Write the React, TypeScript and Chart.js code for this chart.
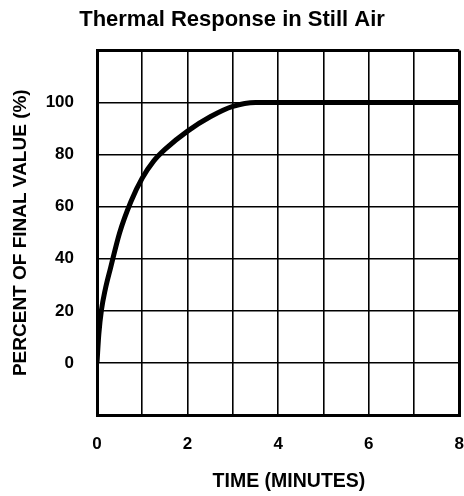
import React, { useEffect, useRef } from "react";
import { Chart, registerables } from "chart.js";

Chart.register(...registerables);

const timeMinutes = [0, 0.04, 0.1, 0.18, 0.3, 0.5, 0.75, 1.0, 1.25, 1.5, 2.0, 2.5, 3.0, 3.5, 4, 5, 6, 7, 8];
const percentFinal = [0, 11, 20.5, 28, 36.5, 50, 62, 71, 77.5, 82, 89, 94.5, 98.5, 100, 100, 100, 100, 100, 100];
const xTickLabels = [0, 2, 4, 6, 8];
const yTickLabels = [0, 20, 40, 60, 80, 100];
const titleText = "Thermal Response in Still Air";
const xTitle = "\u00a0\u00a0\u00a0\u00a0TIME (MINUTES)";
const yTitle = "PERCENT OF FINAL VALUE (%)";

const sans = "'Liberation Sans', Arial, Helvetica, sans-serif";

export default function App() {
  const ref = useRef<HTMLCanvasElement | null>(null);

  useEffect(() => {
    if (!ref.current) return;
    const points = timeMinutes.map((t, i) => ({ x: t, y: percentFinal[i] }));
    const edgeWidth = (edgeA: number, edgeB: number) => (ctx: any) =>
      ctx.tick && (ctx.tick.value === edgeA || ctx.tick.value === edgeB) ? 3 : 1.6;

    const chart = new Chart(ref.current, {
      type: "line",
      data: {
        datasets: [
          {
            data: points,
            borderColor: "#000",
            borderWidth: 5,
            pointRadius: 0,
            cubicInterpolationMode: "monotone",
            fill: false,
          },
        ],
      },
      options: {
        animation: false,
        responsive: false,
        devicePixelRatio: 1,
        layout: { padding: { left: 0, right: 0, top: 0, bottom: 0 } },
        plugins: {
          legend: { display: false },
          tooltip: { enabled: false },
          title: {
            display: true,
            text: titleText,
            color: "#000",
            font: { family: sans, size: 22, weight: "bold" },
            padding: { top: 7, bottom: 17 },
          },
        },
        scales: {
          x: {
            type: "linear",
            min: 0,
            max: 8,
            afterFit: (s: any) => {
              s.height = 81;
            },
            ticks: {
              stepSize: 1,
              autoSkip: false,
              maxRotation: 0,
              color: "#000",
              padding: 0,
              font: { family: sans, size: 17, weight: "bold" },
              callback: (v: any) => (xTickLabels.includes(Number(v)) ? String(v) : ""),
            },
            grid: {
              color: "#000",
              lineWidth: edgeWidth(0, 8),
              drawTicks: true,
              tickLength: 19,
              tickColor: "rgba(0,0,0,0)",
            },
            border: { display: true, color: "#000", width: 3 },
            title: {
              display: true,
              text: xTitle,
              color: "#000",
              font: { family: sans, size: 19.5, weight: "bold" },
              padding: { top: 0, bottom: 3 },
            },
          },
          y: {
            type: "linear",
            min: -20,
            max: 120,
            afterFit: (s: any) => {
              s.width = 97;
            },
            ticks: {
              stepSize: 20,
              autoSkip: false,
              color: "#000",
              padding: 23,
              font: { family: sans, size: 17, weight: "bold" },
              callback: (v: any) => (yTickLabels.includes(Number(v)) ? String(v) : ""),
            },
            grid: { color: "#000", lineWidth: edgeWidth(-20, 120), drawTicks: false },
            border: { display: true, color: "#000", width: 3 },
            title: {
              display: true,
              text: yTitle,
              color: "#000",
              font: { family: sans, size: 19, weight: "bold" },
              padding: { top: 9, bottom: 0 },
            },
          },
        },
      },
    });
    return () => chart.destroy();
  }, []);

  return (
    <div style={{ position: "absolute", left: 0, top: 0, width: 464, height: 496, background: "#fff" }}>
      <canvas ref={ref} width={464} height={496} style={{ display: "block" }} />
    </div>
  );
}
